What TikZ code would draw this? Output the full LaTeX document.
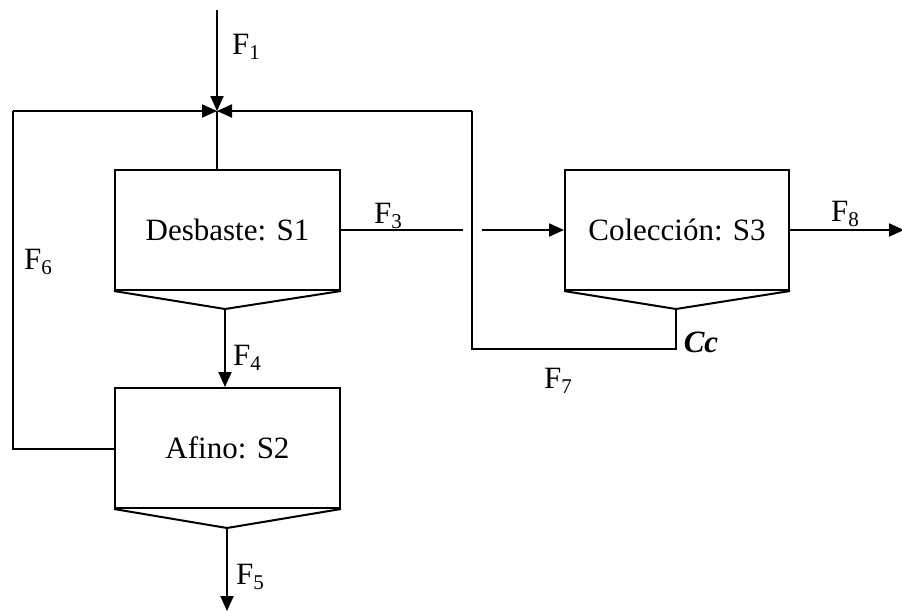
\documentclass[tikz,border=0pt]{standalone}
\usepackage{fontspec}
\setmainfont{Liberation Serif}
\usetikzlibrary{arrows.meta}

% flow label with a lowered, smaller index
\newcommand{\flow}[1]{F\raisebox{-5pt}{\fontsize{21}{21}\selectfont #1}}

\begin{document}
\begin{tikzpicture}[x=1pt, y=-1pt,
  every node/.style={font=\fontsize{31}{36}\selectfont, inner sep=0pt},
  unit/.style={draw, line width=2pt, minimum width=225pt, minimum height=120pt},
  pipe/.style={line width=2pt},
  flowarrow/.style={pipe, -{Triangle[length=15pt,width=13pt]}},
  lbl/.style={anchor=center}]
\useasboundingbox (0,0) rectangle (902,611);

% process units
\node[unit] (s1) at (227.5,230) {Desbaste: S1};
\node[unit] (s2) at (227.5,448) {Afino: S2};
\node[unit, minimum width=224pt] (s3) at (677,230) {Colección: S3};

% hopper outlets under each unit
\coordinate (o1) at (225,309);
\coordinate (o2) at (227,528);
\coordinate (o3) at (676,309);
\draw[pipe, line join=miter] (s1.south west) -- (o1) -- (s1.south east);
\draw[pipe, line join=miter] (s2.south west) -- (o2) -- (s2.south east);
\draw[pipe, line join=miter] (s3.south west) -- (o3) -- (s3.south east);

% mixing point above S1
\coordinate (mix) at (217,111);
\coordinate (feed) at (217,10);
\coordinate (mixdown) at (217,170);
\draw[flowarrow] (feed) -- (mix);
\draw[pipe] (mix) -- (mixdown);

% F3: S1 to S3 with a break where it crosses the recycle line
\coordinate (f3a) at (463,230);
\coordinate (f3b) at (482,230);
\draw[pipe] (s1.east |- f3a) -- (f3a);
\draw[flowarrow] (f3b) -- (s3.west |- f3b);

% F7: recycle from S3 back to the mixing point
\coordinate (r1) at (676,349);
\coordinate (r2) at (472,349);
\coordinate (r3) at (472,111);
\draw[pipe] (o3) -- (r1) -- (r2) -- (r3);
\draw[flowarrow] (r3) -- (mix);

% F6: recycle from S2 back to the mixing point
\coordinate (q1) at (13,449);
\coordinate (q2) at (13,111);
\draw[pipe] (s2.west |- q1) -- (q1) -- (q2);
\draw[flowarrow] (q2) -- (mix);

% F4: S1 to S2
\draw[flowarrow] (o1) -- (o1 |- s2.north);

% F5: S2 outlet
\coordinate (f5end) at (227,611);
\draw[flowarrow] (o2) -- (f5end);

% F8: S3 product
\coordinate (f8end) at (904,230);
\draw[flowarrow] (s3.east |- f8end) -- (f8end);

% stream labels
\node[lbl] (lF1) at (246,47) {\flow{1}};
\node[lbl] (lF3) at (388,216) {\flow{3}};
\node[lbl] (lF4) at (247,358) {\flow{4}};
\node[lbl] (lF5) at (250,577) {\flow{5}};
\node[lbl] (lF6) at (38,262) {\flow{6}};
\node[lbl] (lF7) at (558,381) {\flow{7}};
\node[lbl] (lF8) at (845,214) {\flow{8}};
\node[lbl] (lCc) at (701,342) {\textbf{\textit{Cc}}};
\end{tikzpicture}
\end{document}
